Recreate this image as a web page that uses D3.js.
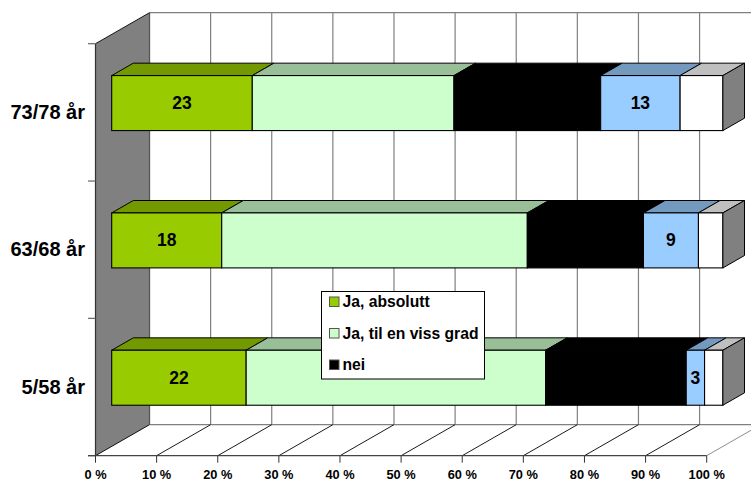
<!DOCTYPE html>
<html>
<head>
<meta charset="utf-8">
<script src="https://cdn.jsdelivr.net/npm/d3@7"></script>
<style>
  html, body { margin: 0; padding: 0; background: #fff; }
  text { font-family: "Liberation Sans", Arial, sans-serif; font-weight: bold; fill: #000; }
</style>
</head>
<body>
<svg id="chart" width="751" height="481"></svg>
<script>
// Answer shares per age group, top row first (percent)
const groups = ["73/78 år", "63/68 år", "5/58 år"];
const absolutt = [23, 18, 22];
const vissGrad = [33, 50, 49];
const nei = [24, 19, 23];
const fourth = [13, 9, 3];
const fifth = [7, 4, 3];
const ticks = [0, 10, 20, 30, 40, 50, 60, 70, 80, 90, 100];
const legendLabels = ["Ja, absolutt", "Ja, til en viss grad", "nei"];

const seriesValues = [absolutt, vissGrad, nei, fourth, fifth];
const frontColors = ["#99cc00", "#ccffcc", "#000000", "#99ccff", "#ffffff"];
const topColors = ["#739900", "#99bf99", "#000000", "#7399bf", "#bfbfbf"];
const labelled = [true, false, false, true, false];
const legendSeries = [0, 1, 2];

const svg = d3.select("#chart");

// Oblique projection: the floor recedes by (depthX, -depthY)
const depthX = 54, depthY = 31;
const x = d3.scaleLinear().domain([0, 100]).range([95.5, 706.7]);
const y = d3.scaleBand().domain(groups).range([43.7, 455.7]);
const barFrac = 0.3, barDepth = 0.4, barHeight = 55;
const project = (v, yy, d) => [x(v) + depthX * d, yy - depthY * d];
const pts = a => a.map(p => p.join(",")).join(" ");

const yTop = y.range()[0], yBase = y.range()[1];

// Left side wall
svg.append("polygon")
  .attr("points", pts([project(0, yTop, 0), project(0, yTop, 1), project(0, yBase, 1), project(0, yBase, 0)]))
  .attr("fill", "#808080");

// Gridlines on the back wall and on the floor
const grid = svg.append("g");
grid.selectAll("line.back").data(ticks).join("line")
  .attr("class", "back")
  .attr("x1", d => project(d, yTop, 1)[0]).attr("x2", d => project(d, yTop, 1)[0])
  .attr("y1", project(0, yTop, 1)[1]).attr("y2", project(0, yBase, 1)[1])
  .attr("stroke", "#808080").attr("stroke-width", 1.2);
[yTop, yBase].forEach(level => {
  grid.append("line")
    .attr("x1", project(0, level, 1)[0]).attr("x2", project(100, level, 1)[0])
    .attr("y1", project(0, level, 1)[1]).attr("y2", project(0, level, 1)[1])
    .attr("stroke", "#808080").attr("stroke-width", 1.2);
});
grid.selectAll("line.floor").data(ticks).join("line")
  .attr("class", "floor")
  .attr("x1", d => project(d, yBase, 0)[0]).attr("y1", yBase)
  .attr("x2", d => project(d, yBase, 1)[0]).attr("y2", project(0, yBase, 1)[1])
  .attr("stroke", d => d === 100 ? "#808080" : "#000").attr("stroke-width", 0.9);
grid.append("line")
  .attr("x1", project(0, yTop, 1)[0]).attr("x2", project(0, yBase, 1)[0])
  .attr("y1", project(0, yTop, 1)[1]).attr("y2", project(0, yBase, 1)[1])
  .attr("stroke", "#555").attr("stroke-width", 1.2);
grid.append("line")
  .attr("x1", project(0, yTop, 0)[0]).attr("x2", project(0, yTop, 1)[0])
  .attr("y1", yTop).attr("y2", project(0, yTop, 1)[1])
  .attr("stroke", "#000").attr("stroke-width", 0.9);

// Stacked 3D bars; d is the depth measured from the bar's front face
groups.forEach((g, row) => {
  const bandMid = y(g) + y.bandwidth() / 2;
  const frontBottom = bandMid + barHeight / 2 - depthY * barFrac;
  const frontTop = frontBottom - barHeight;
  const layer = svg.append("g");
  const corner = (v, yy, d) => [x(v) + depthX * (barFrac + d), yy - depthY * d];
  let acc = 0;
  seriesValues.forEach((vals, s) => {
    const a = acc, b = acc + vals[row];
    acc = b;
    // top face
    layer.append("polygon")
      .attr("points", pts([
        corner(a, frontTop, 0), corner(b, frontTop, 0),
        corner(b, frontTop, barDepth), corner(a, frontTop, barDepth)
      ]))
      .attr("fill", topColors[s]).attr("stroke", "#000").attr("stroke-width", 1).attr("stroke-linejoin", "round");
    // front face
    const p0 = corner(a, frontTop, 0), p1 = corner(b, frontTop, 0);
    layer.append("rect")
      .attr("x", p0[0]).attr("y", frontTop)
      .attr("width", p1[0] - p0[0]).attr("height", barHeight)
      .attr("fill", frontColors[s]).attr("stroke", "#000").attr("stroke-width", 1.1);
    if (labelled[s]) {
      layer.append("text")
        .attr("x", (p0[0] + p1[0]) / 2).attr("y", frontTop + barHeight / 2 + 6)
        .attr("text-anchor", "middle").attr("font-size", 17.5)
        .text(vals[row]);
    }
  });
  // right end face
  layer.append("polygon")
    .attr("points", pts([
      corner(100, frontTop, 0), corner(100, frontTop, barDepth),
      corner(100, frontTop + barHeight, barDepth), corner(100, frontTop + barHeight, 0)
    ]))
    .attr("fill", "#808080").attr("stroke", "#000").attr("stroke-width", 1).attr("stroke-linejoin", "round");
});

// Category axis
const cat = svg.append("g");
cat.append("line").attr("x1", x(0)).attr("x2", x(0)).attr("y1", yTop).attr("y2", yBase)
  .attr("stroke", "#333").attr("stroke-width", 1.2);
const catTicks = [yTop, yTop + y.step(), yTop + 2 * y.step(), yBase];
cat.selectAll("line.tick").data(catTicks).join("line")
  .attr("class", "tick")
  .attr("x1", x(0) - 7.5).attr("x2", x(0)).attr("y1", d => d).attr("y2", d => d)
  .attr("stroke", "#666").attr("stroke-width", 1.2);
cat.selectAll("text").data(groups).join("text")
  .attr("x", 85).attr("y", d => y(d) + y.bandwidth() / 2 + 6.5)
  .attr("text-anchor", "end").attr("font-size", 20)
  .text(d => d);

// Value axis along the front floor edge
const val = svg.append("g");
val.append("line").attr("x1", x(0) - 7.5).attr("x2", x(100)).attr("y1", yBase).attr("y2", yBase)
  .attr("stroke", "#444").attr("stroke-width", 1.3);
val.selectAll("line.tick").data(ticks).join("line")
  .attr("class", "tick")
  .attr("x1", d => x(d)).attr("x2", d => x(d)).attr("y1", yBase).attr("y2", yBase + 7)
  .attr("stroke", "#333").attr("stroke-width", 1);
val.selectAll("text").data(ticks).join("text")
  .attr("x", d => x(d)).attr("y", 479)
  .attr("text-anchor", "middle").attr("font-size", 12.8)
  .text(d => d + " %");

// Legend
const lg = svg.append("g");
lg.append("rect").attr("x", 321.5).attr("y", 291.5).attr("width", 163).attr("height", 87.5)
  .attr("fill", "#fff").attr("stroke", "#000").attr("stroke-width", 1);
const rowY = d3.scalePoint().domain(legendLabels).range([302, 365]);
legendLabels.forEach((label, i) => {
  lg.append("rect").attr("x", 329.5).attr("y", rowY(label) - 5).attr("width", 9.5).attr("height", 9.5)
    .attr("fill", frontColors[legendSeries[i]]).attr("stroke", "#555").attr("stroke-width", 1);
  lg.append("text").attr("x", 342.5).attr("y", rowY(label) + 5).attr("font-size", 15.7).text(label);
});
</script>
</body>
</html>
